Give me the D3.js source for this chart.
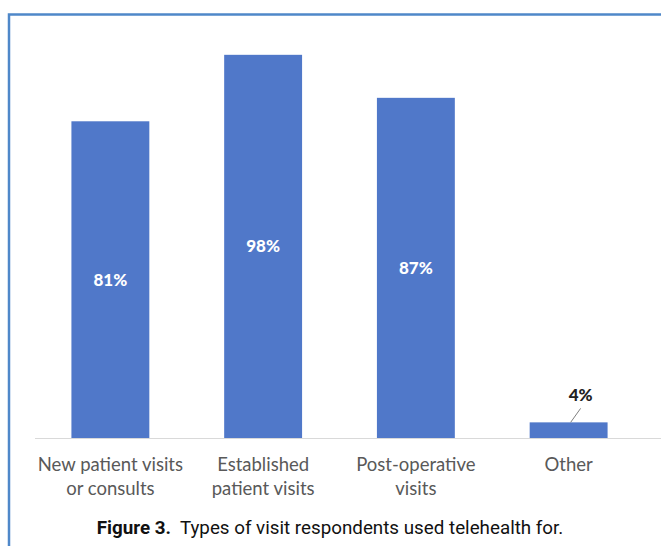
<!DOCTYPE html>
<html><head><meta charset="utf-8">
<script src="https://cdn.jsdelivr.net/npm/d3@7"></script>
<style>body{margin:0;background:#fff}svg{display:block}</style>
</head><body>
<script>
const categories = [["New patient visits","or consults"],["Established","patient visits"],["Post-operative","visits"],["Other"]];
const values = [81, 98, 87, 4];
const labels = ["81%","98%","87%","4%"];

const W = 661, H = 546;
const svg = d3.select("body").append("svg").attr("width", W).attr("height", H);

// frame
svg.append("path").attr("d", `M9,${H} L9,14.5 L${W},14.5`).attr("fill","none")
  .attr("stroke","#4f88c9").attr("stroke-width",2.5);

const baseY = 438;
const x = d3.scaleBand().domain(d3.range(values.length)).range([34, 645]).paddingInner(0.49).paddingOuter(0.245);
const y = d3.scaleLinear().domain([0, 100]).range([baseY, baseY - 391]);

svg.append("line").attr("x1",35).attr("x2",W).attr("y1",baseY+0.5).attr("y2",baseY+0.5)
  .attr("stroke","#d9d9d9").attr("stroke-width",1.2);

svg.selectAll("rect.bar").data(values).enter().append("rect").attr("class","bar")
  .attr("x",(d,i)=>x(i)).attr("width",x.bandwidth())
  .attr("y",d=>y(d)).attr("height",d=>baseY - y(d)).attr("fill","#5078c9");

const font = "Lato, 'Open Sans', sans-serif";
values.forEach((v,i)=>{
  const cx = x(i)+x.bandwidth()/2;
  if (v > 20) {
    svg.append("text").attr("x",cx).attr("y",(y(v)+baseY)/2 + 6)
      .attr("text-anchor","middle").attr("font-family",font).attr("font-weight","900")
      .attr("font-size",17).attr("fill","#fff").text(labels[i]);
  } else {
    svg.append("line").attr("x1",cx+2).attr("y1",y(v)).attr("x2",cx+12).attr("y2",y(v)-14)
      .attr("stroke","#7f7f7f").attr("stroke-width",1);
    svg.append("text").attr("x",cx+12).attr("y",y(v)-21)
      .attr("text-anchor","middle").attr("font-family",font).attr("font-weight","900")
      .attr("font-size",17).attr("fill","#222").text(labels[i]);
  }
  categories[i].forEach((line,j)=>{
    svg.append("text").attr("x",cx).attr("y",471 + j*24).attr("text-anchor","middle")
      .attr("font-family",font).attr("font-size",18.5).attr("fill","#595959").text(line);
  });
});

const cap = svg.append("text").attr("x",330).attr("y",534).attr("text-anchor","middle")
  .attr("font-family","'Liberation Sans Narrow', 'Roboto', sans-serif").attr("font-size",18.8).attr("fill","#111");
cap.append("tspan").attr("font-weight","bold").text("Figure 3.");
cap.append("tspan").text("\u00a0 Types of visit respondents used telehealth for.");
</script>
</body></html>
